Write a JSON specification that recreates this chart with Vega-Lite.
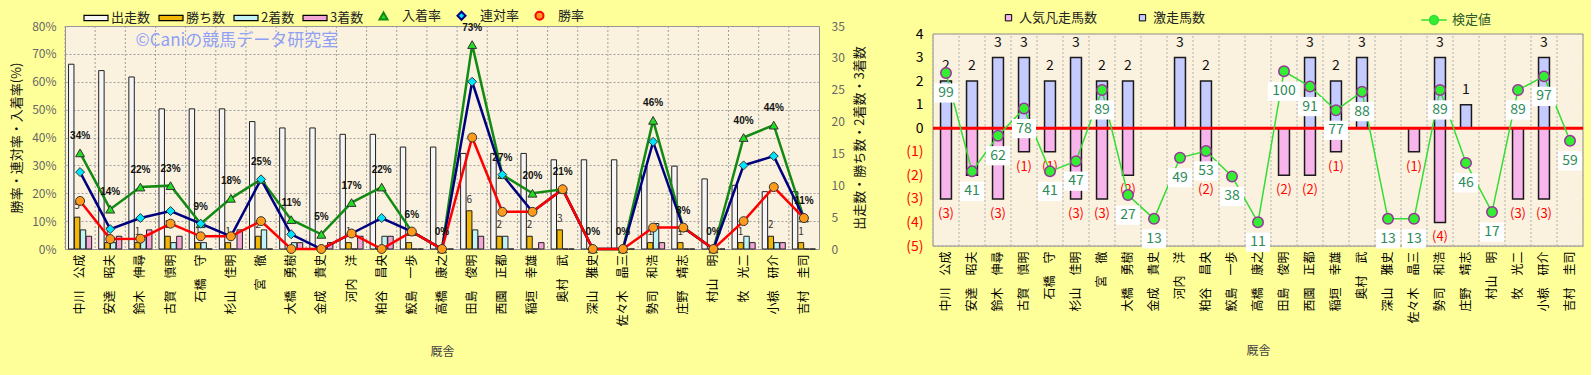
{
 "$schema": "https://vega.github.io/schema/vega-lite/v6.json",
 "background": "#FFFF99",
 "padding": {"left": 10, "top": 8, "right": 6, "bottom": 19},
 "spacing": 38,
 "resolve": {"scale": {"fill": "independent", "stroke": "independent", "shape": "independent", "color": "independent"}},
 "config": {
  "font": "Noto Sans CJK JP",
  "view": {"fill": "#FAF2DF", "stroke": "#8C8C8C", "strokeWidth": 1}
 },
 "datasets": {
  "st": [
   {"name": "中川　公成", "n": 29, "w": 5, "s2": 3, "s3": 2, "pr": 0.3448, "rr": 0.2759, "wr": 0.1724, "gk": 2, "bn": -3, "kt": 99},
   {"name": "安達　昭夫", "n": 28, "w": 1, "s2": 1, "s3": 2, "pr": 0.1429, "rr": 0.0714, "wr": 0.0357, "gk": 2, "bn": -2, "kt": 41},
   {"name": "鈴木　伸尋", "n": 27, "w": 1, "s2": 2, "s3": 3, "pr": 0.2222, "rr": 0.1111, "wr": 0.037, "gk": 3, "bn": -3, "kt": 62},
   {"name": "古賀　慎明", "n": 22, "w": 2, "s2": 1, "s3": 2, "pr": 0.2273, "rr": 0.1364, "wr": 0.0909, "gk": 3, "bn": -1, "kt": 78},
   {"name": "石橋　守", "n": 22, "w": 1, "s2": 1, "s3": 0, "pr": 0.0909, "rr": 0.0909, "wr": 0.0455, "gk": 2, "bn": -1, "kt": 41},
   {"name": "杉山　佳明", "n": 22, "w": 1, "s2": 0, "s3": 3, "pr": 0.1818, "rr": 0.0455, "wr": 0.0455, "gk": 3, "bn": -3, "kt": 47},
   {"name": "宮　徹", "n": 20, "w": 2, "s2": 3, "s3": 0, "pr": 0.25, "rr": 0.25, "wr": 0.1, "gk": 2, "bn": -3, "kt": 89},
   {"name": "大橋　勇樹", "n": 19, "w": 0, "s2": 1, "s3": 1, "pr": 0.1053, "rr": 0.0526, "wr": 0, "gk": 2, "bn": -2, "kt": 27},
   {"name": "金成　貴史", "n": 19, "w": 0, "s2": 0, "s3": 1, "pr": 0.0526, "rr": 0, "wr": 0, "gk": 0, "bn": 0, "kt": 13},
   {"name": "河内　洋", "n": 18, "w": 1, "s2": 0, "s3": 2, "pr": 0.1667, "rr": 0.0556, "wr": 0.0556, "gk": 3, "bn": 0, "kt": 49},
   {"name": "粕谷　昌央", "n": 18, "w": 0, "s2": 2, "s3": 2, "pr": 0.2222, "rr": 0.1111, "wr": 0, "gk": 2, "bn": -2, "kt": 53},
   {"name": "鮫島　一歩", "n": 16, "w": 1, "s2": 0, "s3": 0, "pr": 0.0625, "rr": 0.0625, "wr": 0.0625, "gk": 0, "bn": 0, "kt": 38},
   {"name": "高橋　康之", "n": 16, "w": 0, "s2": 0, "s3": 0, "pr": 0, "rr": 0, "wr": 0, "gk": 0, "bn": 0, "kt": 11},
   {"name": "田島　俊明", "n": 15, "w": 6, "s2": 3, "s3": 2, "pr": 0.7333, "rr": 0.6, "wr": 0.4, "gk": 0, "bn": -2, "kt": 100},
   {"name": "西園　正都", "n": 15, "w": 2, "s2": 2, "s3": 0, "pr": 0.2667, "rr": 0.2667, "wr": 0.1333, "gk": 3, "bn": -2, "kt": 91},
   {"name": "稲垣　幸雄", "n": 15, "w": 2, "s2": 0, "s3": 1, "pr": 0.2, "rr": 0.1333, "wr": 0.1333, "gk": 2, "bn": -1, "kt": 77},
   {"name": "奥村　武", "n": 14, "w": 3, "s2": 0, "s3": 0, "pr": 0.2143, "rr": 0.2143, "wr": 0.2143, "gk": 3, "bn": 0, "kt": 88},
   {"name": "深山　雅史", "n": 14, "w": 0, "s2": 0, "s3": 0, "pr": 0, "rr": 0, "wr": 0, "gk": 0, "bn": 0, "kt": 13},
   {"name": "佐々木　晶三", "n": 14, "w": 0, "s2": 0, "s3": 0, "pr": 0, "rr": 0, "wr": 0, "gk": 0, "bn": -1, "kt": 13},
   {"name": "勢司　和浩", "n": 13, "w": 1, "s2": 4, "s3": 1, "pr": 0.4615, "rr": 0.3846, "wr": 0.0769, "gk": 3, "bn": -4, "kt": 89},
   {"name": "庄野　靖志", "n": 13, "w": 1, "s2": 0, "s3": 0, "pr": 0.0769, "rr": 0.0769, "wr": 0.0769, "gk": 1, "bn": 0, "kt": 46},
   {"name": "村山　明", "n": 11, "w": 0, "s2": 0, "s3": 0, "pr": 0, "rr": 0, "wr": 0, "gk": 0, "bn": 0, "kt": 17},
   {"name": "牧　光二", "n": 10, "w": 1, "s2": 2, "s3": 1, "pr": 0.4, "rr": 0.3, "wr": 0.1, "gk": 0, "bn": -3, "kt": 89},
   {"name": "小椋　研介", "n": 9, "w": 2, "s2": 1, "s3": 1, "pr": 0.4444, "rr": 0.3333, "wr": 0.2222, "gk": 3, "bn": -3, "kt": 97},
   {"name": "吉村　圭司", "n": 9, "w": 1, "s2": 0, "s3": 0, "pr": 0.1111, "rr": 0.1111, "wr": 0.1111, "gk": 0, "bn": 0, "kt": 59}
  ]
 },
 "hconcat": [
  {
   "width": 754,
   "height": 223,
   "data": {"name": "st"},
   "resolve": {"scale": {"y": "independent"}},
   "layer": [
    {
     "mark": {"type": "rule", "color": "#A0A0A0", "strokeDash": [2, 2], "strokeWidth": 1},
     "encoding": {"x": {"field": "name", "type": "nominal", "sort": null, "bandPosition": 0, "scale": {"paddingInner": 0, "paddingOuter": 0},
       "axis": {"title": "厩舎", "labelAngle": -90, "labelFontSize": 12, "labelColor": "#000", "labelPadding": 5, "ticks": false, "domain": false, "grid": false, "labelOverlap": false, "titleFontSize": 12, "titleFontWeight": "normal", "titleColor": "#444", "titlePadding": 20}}}
    },
    {
     "transform": [{"fold": ["n", "w", "s2", "s3"], "as": ["series", "count"]}],
     "mark": {"type": "bar", "stroke": "#202020", "strokeWidth": 1},
     "encoding": {
      "x": {"field": "name", "type": "nominal", "sort": null},
      "xOffset": {"field": "series", "type": "nominal", "scale": {"domain": ["n", "w", "s2", "s3"], "paddingInner": 0.08, "paddingOuter": 0.6}},
      "y": {"field": "count", "type": "quantitative", "scale": {"domain": [0, 35]},
       "axis": {"orient": "right", "values": [0, 5, 10, 15, 20, 25, 30, 35], "grid": false, "ticks": false, "domain": false, "labelPadding": 12, "labelFontSize": 12, "labelColor": "#666", "title": "出走数・勝ち数・2着数・3着数", "titleAngle": -90, "titleBaseline": "top", "titleFontSize": 13, "titleFontWeight": "normal", "titleColor": "#111", "titlePadding": 9}},
      "fill": {"field": "series", "type": "nominal",
       "scale": {"domain": ["n", "w", "s2", "s3"], "range": ["#F6F6F6", "#F2B705", "#BFF3F5", "#F3A6D5"]},
       "legend": {"orient": "none", "legendX": 22, "legendY": -17, "direction": "horizontal", "title": null, "symbolType": "M-1.5,-0.32H1.5V0.32H-1.5Z", "symbolSize": 256, "symbolStrokeColor": "#000000", "symbolStrokeWidth": 1.2, "symbolOpacity": 1, "labelFontSize": 13, "labelColor": "#222", "columnPadding": 5, "labelOffset": 6, "padding": 0,
        "labelExpr": "datum.value==='n' ? '出走数' : datum.value==='w' ? '勝ち数' : datum.value==='s2' ? '2着数' : '3着数'"}}
     }
    },
    {
     "transform": [{"fold": ["w"], "as": ["series", "count"]}, {"filter": "datum.count > 0"}],
     "mark": {"type": "text", "dy": -11, "fontSize": 10, "color": "#333"},
     "encoding": {
      "x": {"field": "name", "type": "nominal", "sort": null},
      "xOffset": {"field": "series", "type": "nominal"},
      "y": {"field": "count", "type": "quantitative", "scale": {"domain": [0, 35]}, "axis": null},
      "text": {"field": "count", "type": "quantitative"}
     }
    },
    {
     "transform": [{"fold": ["pr", "rr", "wr"], "as": ["rseries", "rate"]}],
     "mark": {"type": "line", "strokeWidth": 2.5},
     "encoding": {
      "x": {"field": "name", "type": "nominal", "sort": null},
      "y": {"field": "rate", "type": "quantitative", "scale": {"domain": [0, 0.8]},
       "axis": {"orient": "left", "values": [0, 0.1, 0.2, 0.3, 0.4, 0.5, 0.6, 0.7, 0.8], "format": ".0%", "grid": true, "gridColor": "#A0A0A0", "gridDash": [2, 2], "ticks": false, "domain": false, "labelPadding": 9, "labelFontSize": 12, "labelColor": "#666", "title": "勝率・連対率・入着率(%)", "titleFontSize": 13, "titleFontWeight": "normal", "titleColor": "#111", "titlePadding": 8}},
      "stroke": {"field": "rseries", "type": "nominal", "scale": {"domain": ["pr", "rr", "wr"], "range": ["#138A13", "#00007F", "#FF0000"]},
       "legend": {"orient": "none", "legendX": 312, "legendY": -17, "direction": "horizontal", "title": null, "symbolSize": 64, "symbolOpacity": 1, "symbolStrokeWidth": 2, "labelFontSize": 13, "labelColor": "#222", "columnPadding": 11, "labelOffset": 12, "padding": 0,
        "labelExpr": "datum.value==='pr' ? '入着率' : datum.value==='rr' ? '連対率' : '勝率'"}}
     }
    },
    {
     "transform": [{"fold": ["pr", "rr", "wr"], "as": ["rseries", "rate"]}],
     "mark": {"type": "point", "filled": true, "size": 80, "stroke": "#333333", "strokeWidth": 1, "opacity": 1},
     "encoding": {
      "x": {"field": "name", "type": "nominal", "sort": null},
      "y": {"field": "rate", "type": "quantitative", "scale": {"domain": [0, 0.8]}, "axis": null},
      "color": {"field": "rseries", "type": "nominal", "scale": {"domain": ["pr", "rr", "wr"], "range": ["#22DD22", "#00E5FF", "#FF9A1A"]},
       "legend": {"orient": "none", "legendX": 312, "legendY": -17, "direction": "horizontal", "title": null, "symbolSize": 64, "symbolOpacity": 1, "symbolStrokeWidth": 2, "labelFontSize": 13, "labelColor": "#222", "columnPadding": 11, "labelOffset": 12, "padding": 0,
        "labelExpr": "datum.value==='pr' ? '入着率' : datum.value==='rr' ? '連対率' : '勝率'"}},
      "shape": {"field": "rseries", "type": "nominal", "scale": {"domain": ["pr", "rr", "wr"], "range": ["triangle-up", "diamond", "circle"]},
       "legend": {"orient": "none", "legendX": 312, "legendY": -17, "direction": "horizontal", "title": null, "symbolSize": 64, "symbolOpacity": 1, "symbolStrokeWidth": 2, "labelFontSize": 13, "labelColor": "#222", "columnPadding": 11, "labelOffset": 12, "padding": 0,
        "labelExpr": "datum.value==='pr' ? '入着率' : datum.value==='rr' ? '連対率' : '勝率'"}}
     }
    },
    {
     "mark": {"type": "text", "dy": -17, "fontSize": 10, "fontWeight": "bold", "font": "Liberation Sans", "color": "#111"},
     "encoding": {
      "x": {"field": "name", "type": "nominal", "sort": null},
      "y": {"field": "pr", "type": "quantitative", "scale": {"domain": [0, 0.8]}, "axis": null},
      "text": {"field": "pr", "type": "quantitative", "format": ".0%"}
     }
    },
    {
     "data": {"values": [{"t": "©Caniの競馬データ研究室"}]},
     "mark": {"type": "text", "fontSize": 17, "color": "#8FA0F5", "dx": 6},
     "encoding": {
      "x": {"datum": "杉山　佳明", "type": "nominal"},
      "y": {"datum": 0.745, "type": "quantitative", "scale": {"domain": [0, 0.8]}, "axis": null},
      "text": {"field": "t", "type": "nominal"}
     }
    }
   ]
  },
  {
   "width": 650,
   "height": 220,
   "data": {"name": "st"},
   "view": {"fill": null, "stroke": null},
   "resolve": {"scale": {"y": "independent"}},
   "layer": [
    {
     "data": {"values": [{"lo": -5, "hi": 4}]},
     "mark": {"type": "rect", "fill": "#FAF2DF", "stroke": "#8C8C8C", "strokeWidth": 1},
     "encoding": {
      "y": {"field": "lo", "type": "quantitative", "scale": {"domain": [-5, 4.34]}, "axis": null},
      "y2": {"field": "hi"}
     }
    },
    {
     "mark": {"type": "rule", "color": "#B0B0B0", "strokeDash": [2, 2], "strokeWidth": 1},
     "encoding": {
      "x": {"field": "name", "type": "nominal", "sort": null, "bandPosition": 0, "scale": {"paddingInner": 0, "paddingOuter": 0},
       "axis": {"title": "厩舎", "labelAngle": -90, "labelFontSize": 12, "labelColor": "#000", "labelPadding": 5, "ticks": false, "domain": false, "grid": false, "labelOverlap": false, "titleFontSize": 12, "titleFontWeight": "normal", "titleColor": "#444", "titlePadding": 22}},
      "y": {"datum": -5, "type": "quantitative", "scale": {"domain": [-5, 4.34]}, "axis": null},
      "y2": {"datum": 4}
     }
    },
    {
     "transform": [{"fold": ["bn", "gk"], "as": ["series", "value"]}],
     "mark": {"type": "bar", "width": {"band": 0.42}, "stroke": "#1A1A1A", "strokeWidth": 1.5},
     "encoding": {
      "x": {"field": "name", "type": "nominal", "sort": null},
      "y": {"field": "value", "type": "quantitative", "stack": null, "scale": {"domain": [-5, 4.34]},
       "axis": {"orient": "left", "values": [-5, -4, -3, -2, -1, 0, 1, 2, 3, 4], "format": "(d", "grid": true, "gridColor": "#B8B8B8", "gridDash": [2, 2], "ticks": false, "domain": false, "labelPadding": 10, "labelFontSize": 14, "title": null,
        "labelColor": {"condition": {"test": "datum.value < 0", "value": "#FF0000"}, "value": "#000000"}}},
      "fill": {"field": "series", "type": "nominal", "scale": {"domain": ["bn", "gk"], "range": ["#F7B5EC", "#C5CBFF"]},
       "legend": {"orient": "none", "legendX": 69, "legendY": -15, "direction": "horizontal", "title": null, "symbolType": "square", "symbolSize": 40, "symbolStrokeColor": "#000000", "symbolStrokeWidth": 1, "symbolOpacity": 1, "labelFontSize": 13, "labelColor": "#222", "columnPadding": 38, "labelOffset": 4, "padding": 0,
        "labelExpr": "datum.value==='bn' ? '人気凡走馬数' : '激走馬数'"}}
     }
    },
    {
     "data": {"values": [{"z": 0}]},
     "mark": {"type": "rule", "color": "#FF0000", "strokeWidth": 3},
     "encoding": {"y": {"field": "z", "type": "quantitative", "scale": {"domain": [-5, 4.34]}, "axis": null}}
    },
    {
     "transform": [{"filter": "datum.gk > 0"}],
     "mark": {"type": "text", "dy": -15, "fontSize": 14, "color": "#111"},
     "encoding": {
      "x": {"field": "name", "type": "nominal", "sort": null},
      "y": {"field": "gk", "type": "quantitative", "scale": {"domain": [-5, 4.34]}, "axis": null},
      "text": {"field": "gk", "type": "quantitative"}
     }
    },
    {
     "transform": [{"filter": "datum.bn < 0"}],
     "mark": {"type": "text", "dy": 15, "fontSize": 13, "color": "#FF0000"},
     "encoding": {
      "x": {"field": "name", "type": "nominal", "sort": null},
      "y": {"field": "bn", "type": "quantitative", "scale": {"domain": [-5, 4.34]}, "axis": null},
      "text": {"field": "bn", "type": "quantitative", "format": "(d"}
     }
    },
    {
     "mark": {"type": "line", "strokeWidth": 1.5},
     "encoding": {
      "x": {"field": "name", "type": "nominal", "sort": null},
      "y": {"field": "kt", "type": "quantitative", "scale": {"domain": [-3, 126.7]}, "axis": null},
      "stroke": {"datum": "検定値", "type": "nominal", "scale": {"domain": ["検定値"], "range": ["#33DD33"]},
       "legend": {"orient": "none", "legendX": 492, "legendY": -15, "title": null, "symbolType": "M-1.6,0H-0.55M0.55,0H1.6M0.55,0A0.55,0.55 0 1 1 -0.55,0A0.55,0.55 0 1 1 0.55,0Z", "symbolSize": 256, "symbolFillColor": "#33EE33", "symbolStrokeWidth": 1.5, "labelFontSize": 13, "labelColor": "#2A5A2A", "labelOffset": 9, "padding": 0}}
     }
    },
    {
     "mark": {"type": "point", "filled": true, "fill": "#33EE33", "stroke": "#993399", "strokeWidth": 1.5, "size": 110, "opacity": 1},
     "encoding": {
      "x": {"field": "name", "type": "nominal", "sort": null},
      "y": {"field": "kt", "type": "quantitative", "scale": {"domain": [-3, 126.7]}, "axis": null}
     }
    },
    {
     "mark": {"type": "point", "filled": true, "fill": "#FFFFFF", "strokeWidth": 0, "size": 576, "opacity": 1, "yOffset": 20},
     "encoding": {
      "x": {"field": "name", "type": "nominal", "sort": null},
      "y": {"field": "kt", "type": "quantitative", "scale": {"domain": [-3, 126.7]}, "axis": null},
      "shape": {"condition": {"test": "datum.kt >= 100", "value": "M-1.35,-0.8H1.35V0.8H-1.35Z"}, "value": "M-1,-0.8H1V0.8H-1Z"}
     }
    },
    {
     "mark": {"type": "text", "dy": 20, "fontSize": 14, "color": "#2E8B57"},
     "encoding": {
      "x": {"field": "name", "type": "nominal", "sort": null},
      "y": {"field": "kt", "type": "quantitative", "scale": {"domain": [-3, 126.7]}, "axis": null},
      "text": {"field": "kt", "type": "quantitative"}
     }
    }
   ]
  }
 ]
}
